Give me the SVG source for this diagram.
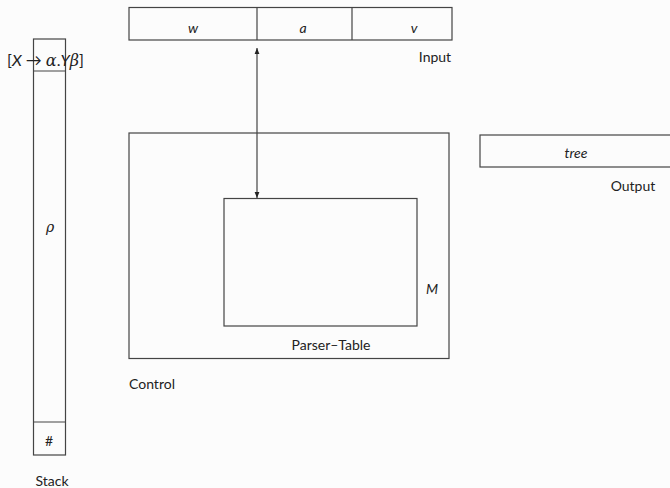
<svg xmlns="http://www.w3.org/2000/svg" width="670" height="488" viewBox="0 0 670 488">
<style>
.box{fill:none;stroke:#444;stroke-width:1.2}
.t{font-family:Lato,"DejaVu Sans",sans-serif;font-size:14px;fill:#222}
.i{font-style:italic}
.m{font-family:"DejaVu Serif","Liberation Serif",serif;font-style:italic}
</style>
<defs>
<marker id="ah" viewBox="0 0 10 10" refX="10" refY="5" markerWidth="5" markerHeight="5" orient="auto-start-reverse">
<path d="M0,1 L10,5 L0,9 z" fill="#222"/>
</marker>
</defs>
<rect width="670" height="488" fill="#fcfcfc"/>
<g id="input">
<rect class="box" x="129" y="7.5" width="323" height="32.5"/>
<line class="box" x1="257" y1="7.5" x2="257" y2="40"/>
<line class="box" x1="352" y1="7.5" x2="352" y2="40"/>
<text class="t i" x="193" y="33" text-anchor="middle">w</text>
<text class="t i" x="303" y="33" text-anchor="middle">a</text>
<text class="t i" x="414" y="33" text-anchor="middle">v</text>
<text class="t" x="435" y="62" text-anchor="middle">Input</text>
</g>
<g id="stack">
<rect class="box" x="33.5" y="39" width="32" height="416"/>
<line class="box" x1="33.5" y1="71" x2="65.5" y2="71"/>
<line class="box" x1="33.5" y1="422" x2="65.5" y2="422"/>
<text class="t" x="7" y="66" style="font-size:16px"><tspan>[</tspan><tspan class="i">X</tspan><tspan> → </tspan><tspan class="m">α</tspan><tspan>.</tspan><tspan class="i">Y</tspan><tspan class="m">β</tspan><tspan>]</tspan></text>
<text class="t m" x="50" y="232" text-anchor="middle">ρ</text>
<text class="t" x="49" y="446" text-anchor="middle">#</text>
<text class="t" x="52" y="486" text-anchor="middle">Stack</text>
</g>
<g id="control">
<rect class="box" x="129" y="133" width="320" height="225.5"/>
<text class="t" x="129" y="389">Control</text>
</g>
<g id="table">
<rect class="box" x="224" y="198.5" width="193" height="127.5"/>
<text class="t" x="331" y="350" text-anchor="middle">Parser–Table</text>
<text class="t i" x="432" y="294" text-anchor="middle">M</text>
</g>
<g id="output">
<rect class="box" x="480" y="135" width="200" height="32"/>
<text class="t i" x="576" y="158" text-anchor="middle">tree</text>
<text class="t" x="633" y="191" text-anchor="middle">Output</text>
</g>
<g id="connectors">
<line x1="257" y1="48" x2="257" y2="198" stroke="#444" stroke-width="1.2" marker-start="url(#ah)" marker-end="url(#ah)"/>
</g>
</svg>
